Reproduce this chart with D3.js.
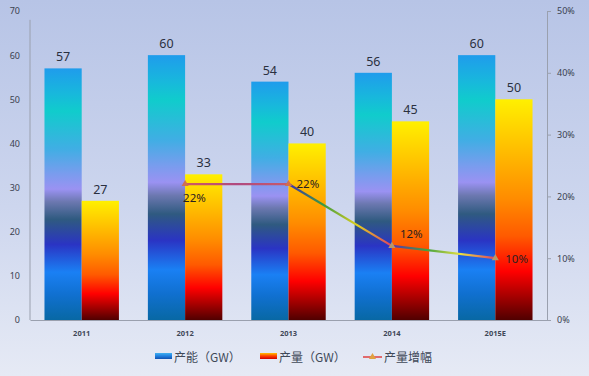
<!DOCTYPE html>
<html>
<head>
<meta charset="utf-8">
<script src="https://cdn.jsdelivr.net/npm/d3@7"></script>
<style>
  body { margin: 0; }
  svg { display: block; font-family: "Noto Sans", "Noto Sans CJK SC", sans-serif; }
</style>
</head>
<body>
<div id="chart"></div>
<script>
const years = ["2011", "2012", "2013", "2014", "2015E"];
const capacity = [57, 60, 54, 56, 60];
const production = [27, 33, 40, 45, 50];
const growth = [null, 0.22, 0.22, 0.12, 0.10];
const leftTicks = [0, 10, 20, 30, 40, 50, 60, 70];
const rightTicks = [0, 0.1, 0.2, 0.3, 0.4, 0.5];

const W = 589, H = 376;
const margin = { top: 11, right: 42, bottom: 56, left: 30 };

const svg = d3.select("#chart").append("svg")
  .attr("width", W).attr("height", H);

const defs = svg.append("defs");

// background gradient
const bg = defs.append("linearGradient").attr("id", "bg")
  .attr("x1", 0).attr("y1", 0).attr("x2", 0).attr("y2", 1);
bg.append("stop").attr("offset", "0%").attr("stop-color", "#b7c4e6");
bg.append("stop").attr("offset", "55%").attr("stop-color", "#cdd6ee");
bg.append("stop").attr("offset", "100%").attr("stop-color", "#e6eaf5");

// capacity bar gradient
const capStops = [
  [0, "#1f9cec"], [0.1, "#18b8dc"], [0.17, "#10cccc"], [0.32, "#40aee4"],
  [0.42, "#7a9cee"], [0.48, "#9a92f2"], [0.53, "#6c78b0"], [0.6, "#2f5a80"],
  [0.7, "#2a34c4"], [0.81, "#1a80f4"], [0.9, "#1070d0"], [1, "#0868a4"]
];
const capGrad = defs.append("linearGradient").attr("id", "capGrad")
  .attr("x1", 0).attr("y1", 0).attr("x2", 0).attr("y2", 1);
capStops.forEach(s => capGrad.append("stop").attr("offset", s[0]).attr("stop-color", s[1]));

// production bar gradient
const prodStops = [
  [0, "#fff000"], [0.2, "#ffc400"], [0.45, "#ff8c00"], [0.62, "#ff5a00"],
  [0.78, "#ff0000"], [0.88, "#b00000"], [1, "#500000"]
];
const prodGrad = defs.append("linearGradient").attr("id", "prodGrad")
  .attr("x1", 0).attr("y1", 0).attr("x2", 0).attr("y2", 1);
prodStops.forEach(s => prodGrad.append("stop").attr("offset", s[0]).attr("stop-color", s[1]));

svg.append("rect").attr("width", W).attr("height", H).attr("fill", "url(#bg)");

const x = d3.scaleBand().domain(years)
  .range([margin.left, W - margin.right]).paddingInner(0.28).paddingOuter(0.14);
const yL = d3.scaleLinear().domain([0, 70]).range([H - margin.bottom, margin.top]);
const yR = d3.scaleLinear().domain([0, 0.5]).range([H - margin.bottom, margin.top]);
const bw = x.bandwidth() / 2;

// axes
const axisColor = "#9aa0ae";
const gL = svg.append("g").attr("transform", `translate(${margin.left},0)`)
  .call(d3.axisLeft(yL).tickValues(leftTicks).tickSize(0).tickPadding(10));
const gR = svg.append("g").attr("transform", `translate(${W - margin.right},0)`)
  .call(d3.axisRight(yR).tickValues(rightTicks).tickSize(4).tickPadding(6)
    .tickFormat(d3.format(".0%")));
const gB = svg.append("g").attr("transform", `translate(0,${H - margin.bottom})`)
  .call(d3.axisBottom(x).tickSize(0).tickPadding(11));

[gL, gR, gB].forEach(g => {
  g.select(".domain").attr("stroke", axisColor);
  g.selectAll(".tick line").attr("stroke", axisColor);
  g.selectAll("text").attr("fill", "#3a4250").attr("font-size", 9)
    .attr("font-family", "'Noto Sans', sans-serif");
});
gB.selectAll("text").attr("font-size", 7.5).attr("font-weight", "bold").attr("fill", "#404858");
gL.select(".domain").attr("d", `M0,${yL(0)}V${yL(68)}`);

// bars
svg.append("g").selectAll("rect").data(years).join("rect")
  .attr("x", d => x(d))
  .attr("y", (d, i) => yL(capacity[i]))
  .attr("width", bw)
  .attr("height", (d, i) => yL(0) - yL(capacity[i]))
  .attr("fill", "url(#capGrad)");

svg.append("g").selectAll("rect").data(years).join("rect")
  .attr("x", d => x(d) + bw)
  .attr("y", (d, i) => yL(production[i]))
  .attr("width", bw)
  .attr("height", (d, i) => yL(0) - yL(production[i]))
  .attr("fill", "url(#prodGrad)");

// bar labels
const labelFont = 12.5;
svg.append("g").selectAll("text").data(years).join("text")
  .attr("x", d => x(d) + bw / 2)
  .attr("y", (d, i) => yL(capacity[i]) - 7)
  .attr("text-anchor", "middle").attr("font-size", labelFont).attr("fill", "#2a3040")
  .text((d, i) => capacity[i]);
svg.append("g").selectAll("text").data(years).join("text")
  .attr("x", d => x(d) + bw * 1.5)
  .attr("y", (d, i) => yL(production[i]) - 7)
  .attr("text-anchor", "middle").attr("font-size", labelFont).attr("fill", "#2a3040")
  .text((d, i) => production[i]);

// growth line, one gradient per segment
const pts = years.map((d, i) => ({ year: d, v: growth[i] })).filter(p => p.v !== null);
const cx = d => x(d.year) + x.bandwidth() / 2;
const segColors = [
  ["#d05a60", "#b04a80", "#c85a6a"],
  ["#4030b0", "#3a9a40", "#e0d020", "#e04060"],
  ["#6030b0", "#40a040", "#e8e040", "#e04060"]
];
const segs = d3.pairs(pts);
segs.forEach((s, i) => {
  const g = defs.append("linearGradient").attr("id", "seg" + i)
    .attr("gradientUnits", "userSpaceOnUse")
    .attr("x1", cx(s[0])).attr("y1", yR(s[0].v))
    .attr("x2", cx(s[1])).attr("y2", yR(s[1].v));
  segColors[i].forEach((c, j, a) => g.append("stop")
    .attr("offset", j / (a.length - 1)).attr("stop-color", c));
});
svg.append("g").selectAll("path").data(segs).join("path")
  .attr("d", d => d3.line().x(cx).y(p => yR(p.v))(d))
  .attr("fill", "none").attr("stroke", (d, i) => `url(#seg${i})`).attr("stroke-width", 2.2);

svg.append("g").selectAll("path").data(pts).join("path")
  .attr("transform", d => `translate(${cx(d)},${yR(d.v)})`)
  .attr("d", d3.symbol(d3.symbolTriangle, 22))
  .attr("fill", (d, i) => i < 2 ? "#d07050" : "#b89868");

const pctOffsets = [[-2, 18], [8, 4], [8, -8], [10, 5]];
svg.append("g").selectAll("text").data(pts).join("text")
  .attr("x", (d, i) => cx(d) + pctOffsets[i][0])
  .attr("y", (d, i) => yR(d.v) + pctOffsets[i][1])
  .attr("font-size", 11.5).attr("fill", "#2a2020")
  .text(d => d3.format(".0%")(d.v));

// legend
const legendY = 357;
const lg = svg.append("g").attr("font-size", 12).attr("fill", "#404858")
  .attr("font-family", "'Noto Sans CJK SC', sans-serif");

const capSw = defs.append("linearGradient").attr("id", "capSw")
  .attr("x1", 0).attr("y1", 0).attr("x2", 0).attr("y2", 1);
[[0, "#40b0f0"], [0.5, "#2080e0"], [1, "#1050b0"]]
  .forEach(s => capSw.append("stop").attr("offset", s[0]).attr("stop-color", s[1]));
const prodSw = defs.append("linearGradient").attr("id", "prodSw")
  .attr("x1", 0).attr("y1", 0).attr("x2", 0).attr("y2", 1);
[[0, "#ffc000"], [0.5, "#ff4000"], [1, "#d00000"]]
  .forEach(s => prodSw.append("stop").attr("offset", s[0]).attr("stop-color", s[1]));

lg.append("rect").attr("x", 155).attr("y", legendY - 4).attr("width", 17).attr("height", 6)
  .attr("fill", "url(#capSw)");
lg.append("text").attr("x", 174).attr("y", legendY + 5).text("产能（GW）");
lg.append("rect").attr("x", 260).attr("y", legendY - 4).attr("width", 17).attr("height", 6)
  .attr("fill", "url(#prodSw)");
lg.append("text").attr("x", 279).attr("y", legendY + 5).text("产量（GW）");
lg.append("line").attr("x1", 363).attr("x2", 382).attr("y1", legendY).attr("y2", legendY)
  .attr("stroke", "#e04040").attr("stroke-width", 1.5);
lg.append("path").attr("transform", `translate(372.5,${legendY})`)
  .attr("d", d3.symbol(d3.symbolTriangle, 22)).attr("fill", "#e0a040");
lg.append("text").attr("x", 384).attr("y", legendY + 5).text("产量增幅");
</script>
</body>
</html>
